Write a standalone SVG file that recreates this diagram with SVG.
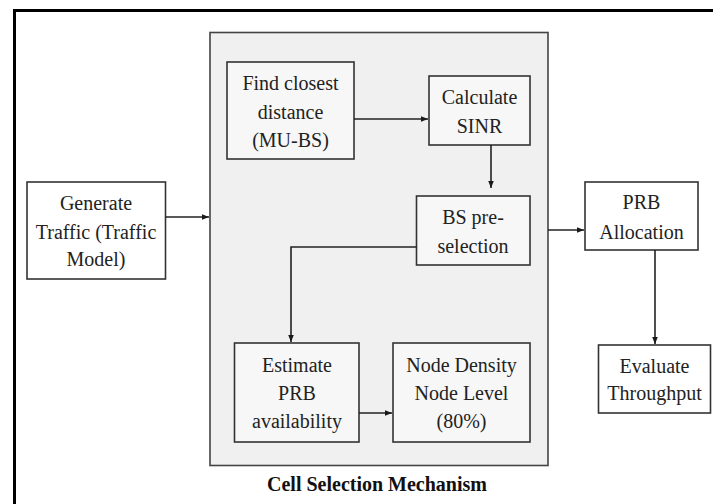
<svg xmlns="http://www.w3.org/2000/svg" width="713" height="504" viewBox="0 0 713 504">
  <defs>
    <marker id="ah" viewBox="0 0 10 10" refX="10" refY="5" markerWidth="7" markerHeight="7" markerUnits="userSpaceOnUse" orient="auto">
      <path d="M0,1 L10,5 L0,9 Z" fill="#1a1a1a"/>
    </marker>
  </defs>
  <style>
    .box { fill: #f7f7f7; stroke: #333; stroke-width: 1.6; }
    .obox { fill: #ffffff; stroke: #333; stroke-width: 1.6; }
    text { font-family: 'Liberation Serif', 'Times New Roman', Times, serif; }
    .t { font-size: 20px; fill: #222; text-anchor: middle; }
    .title { font-size: 20px; font-weight: bold; fill: #111; text-anchor: middle; }
    .c { fill: none; stroke: #222; stroke-width: 1.6; }
  </style>
  <rect x="0" y="0" width="713" height="504" fill="#ffffff"/>
  <path d="M14.5,504 V10.5 H713" fill="none" stroke="#000" stroke-width="3"/>

  <g id="cell-selection">
    <rect x="210" y="32.5" width="338" height="433" fill="#f0f0f0" stroke="#444" stroke-width="1.6"/>
    <text class="title" x="377" y="491">Cell Selection Mechanism</text>
  </g>

  <g id="generate-traffic">
    <rect class="obox" x="27" y="182" width="138.5" height="97"/>
    <text class="t" x="96" y="210">Generate</text>
    <text class="t" x="96" y="239">Traffic  (Traffic</text>
    <text class="t" x="96" y="266">Model)</text>
  </g>

  <g id="find-closest">
    <rect class="box" x="227" y="62" width="127" height="97"/>
    <text class="t" x="290.5" y="90">Find closest</text>
    <text class="t" x="290.5" y="119">distance</text>
    <text class="t" x="290.5" y="147">(MU-BS)</text>
  </g>

  <g id="calculate-sinr">
    <rect class="box" x="429" y="76" width="101" height="69"/>
    <text class="t" x="479.5" y="104">Calculate</text>
    <text class="t" x="479.5" y="133">SINR</text>
  </g>

  <g id="bs-preselection">
    <rect class="box" x="416.5" y="196" width="113.5" height="69"/>
    <text class="t" x="473" y="224">BS pre-</text>
    <text class="t" x="473" y="253">selection</text>
  </g>

  <g id="estimate-prb">
    <rect class="box" x="234.5" y="343" width="124.5" height="99"/>
    <text class="t" x="297" y="372">Estimate</text>
    <text class="t" x="297" y="400">PRB</text>
    <text class="t" x="297" y="428">availability</text>
  </g>

  <g id="node-density">
    <rect class="box" x="393" y="343" width="137" height="99"/>
    <text class="t" x="461.5" y="372">Node Density</text>
    <text class="t" x="461.5" y="400">Node Level</text>
    <text class="t" x="461.5" y="428">(80%)</text>
  </g>

  <g id="prb-allocation">
    <rect class="obox" x="585" y="182" width="113" height="68"/>
    <text class="t" x="641.5" y="209">PRB</text>
    <text class="t" x="641.5" y="239">Allocation</text>
  </g>

  <g id="evaluate-throughput">
    <rect class="obox" x="598.5" y="345" width="112" height="68"/>
    <text class="t" x="654.5" y="373">Evaluate</text>
    <text class="t" x="654.5" y="400">Throughput</text>
  </g>

  <g id="connectors">
    <line class="c" x1="165.5" y1="217" x2="209" y2="217" marker-end="url(#ah)"/>
    <line class="c" x1="354" y1="119" x2="428" y2="119" marker-end="url(#ah)"/>
    <line class="c" x1="491" y1="145" x2="491" y2="188" marker-end="url(#ah)"/>
    <polyline class="c" points="416.5,247 291,247 291,342" marker-end="url(#ah)"/>
    <line class="c" x1="359" y1="413" x2="392" y2="413" marker-end="url(#ah)"/>
    <line class="c" x1="548" y1="230" x2="584" y2="230" marker-end="url(#ah)"/>
    <line class="c" x1="655" y1="250" x2="655" y2="344" marker-end="url(#ah)"/>
  </g>
</svg>
